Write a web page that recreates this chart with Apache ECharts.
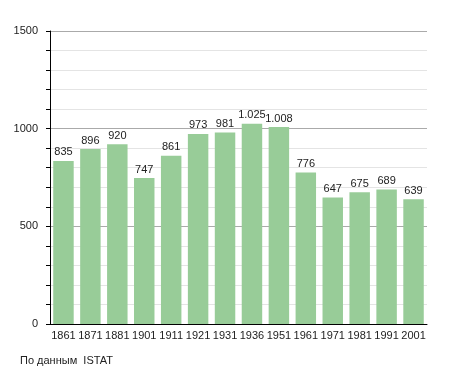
<!DOCTYPE html>
<html><head><meta charset="utf-8">
<script src="https://cdn.jsdelivr.net/npm/echarts@6/dist/echarts.min.js"></script>
<style>html,body{margin:0;padding:0;background:#fff}#c{width:455px;height:373px}</style>
</head><body><div id="c"></div>
<script>
const years = ['1861','1871','1881','1901','1911','1921','1931','1936','1951','1961','1971','1981','1991','2001'];
const population = [835,896,920,747,861,973,981,1025,1008,776,647,675,689,639];
const yTicks = [0,500,1000,1500];
const sourceNote = 'По данным  ISTAT';

function fmt(v){ return v>=1000 ? Math.floor(v/1000)+'.'+String(v%1000).padStart(3,'0') : String(v); }

const chart = echarts.init(document.getElementById('c'), null, {renderer:'canvas'});
chart.setOption({
  animation:false,
  textStyle:{fontFamily:'Liberation Sans, Arial, sans-serif'},
  grid:{left:50,right:28,top:31,bottom:49},
  xAxis:{type:'category',data:years,
    axisLine:{lineStyle:{color:'#000',width:1}},
    axisTick:{show:false},
    axisLabel:{color:'#222',fontSize:11,margin:6,interval:0}},
  yAxis:{type:'value',min:0,max:1500,interval:100,
    axisLine:{show:true,lineStyle:{color:'#000',width:1}},
    axisTick:{show:true,length:4,lineStyle:{color:'#000'}},
    axisLabel:{color:'#222',fontSize:11,margin:12,
      formatter:v=>yTicks.includes(v)?String(v):''},
    splitLine:{show:true,lineStyle:{color:['#aaa','#e4e4e4','#e4e4e4','#e4e4e4','#e4e4e4'],width:1}}},
  series:[{type:'bar',data:population,barCategoryGap:'24%',
    itemStyle:{color:'#98cc98'},
    label:{show:true,position:'top',color:'#222',fontSize:11,distance:3,formatter:p=>fmt(p.value)}}],
  graphic:[{type:'text',left:20,top:355,style:{text:sourceNote,fill:'#222',font:'11px Liberation Sans, Arial, sans-serif'}}]
});
</script></body></html>
